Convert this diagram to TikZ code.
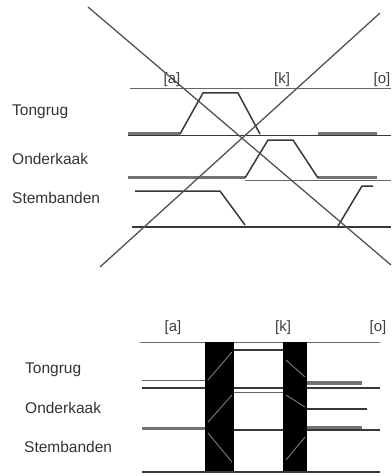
\documentclass[tikz,border=0pt]{standalone}
\usepackage{fontspec}
\setmainfont{Liberation Sans}
\begin{document}
\begin{tikzpicture}[x=1pt,y=-1pt,
  lbl/.style={anchor=base west,inner sep=0pt,font=\fontsize{15.5}{18}\selectfont,text=black!80},
  seg/.style={anchor=base,inner sep=0pt,font=\fontsize{15}{18}\selectfont,text=black!75},
  thinl/.style={draw=black!60,line width=1pt},
  darkl/.style={draw=black!78,line width=1.5pt},
  thickg/.style={draw=black!55,line width=3.8pt},
  diag/.style={draw=black!68,line width=1.3pt},
  bar/.style={fill=black,draw=none},
  ghost/.style={draw=black!55,line width=1pt}]
\useasboundingbox (0,0) rectangle (391,476);
% ---------- upper chart ----------
\node[lbl] (t1) at (12,116) {Tongrug};
\node[lbl] (o1) at (12,164) {Onderkaak};
\node[lbl] (s1) at (12,203) {Stembanden};
\node[seg] (a1) at (172,84) {[a]};
\node[seg] (k1) at (282,84) {[k]};
\node[seg] (oo1) at (382,84) {[o]};
% top reference line
\draw[thinl] (130,89) -- (391,89);
% tongrug
\draw[thickg] (128,134) -- (180,134);
\draw[thickg] (318,134) -- (377,134);
\draw[darkl] (128,135.5) -- (391,135.5);
\draw[darkl] (180,134) -- (203,93) -- (238,93) -- (260,134);
% onderkaak
\draw[thickg] (128,177.5) -- (245,177.5);
\draw[thickg] (318,177.5) -- (377,177.5);
\draw[thinl] (245,180) -- (391,180);
\draw[darkl] (245,178) -- (268,140) -- (293,140) -- (318,178);
% stembanden
\draw[darkl] (135,191) -- (220,191) -- (245,225);
\draw[darkl] (132,227) -- (391,227);
\draw[darkl] (338,226) -- (362,186) -- (373,186);
% crossing diagonals
\coordinate (d1s) at (88,7);
\coordinate (d1e) at (391,265);
\coordinate (d2s) at (380,13);
\coordinate (d2e) at (100,267);
\draw[diag] (d1s) -- (d1e);
\draw[diag] (d2s) -- (d2e);
% ---------- lower chart ----------
\node[lbl] (t2) at (25,373) {Tongrug};
\node[lbl] (o2) at (25,413) {Onderkaak};
\node[lbl] (s2) at (24,452) {Stembanden};
\node[seg] (a2) at (173,331) {[a]};
\node[seg] (k2) at (283,331) {[k]};
\node[seg] (oo2) at (378,331) {[o]};
\draw[thinl] (140,342) -- (380,342);
\draw[darkl] (142,472) -- (380,472);
% left part
\draw[thinl] (142,380) -- (205,380);
\draw[darkl] (142,388) -- (205,388);
\draw[thickg] (142,428.5) -- (205,428.5);
% middle part
\draw[darkl] (234,350) -- (283,350);
\draw[darkl] (234,388) -- (283,388);
\draw[thinl] (234,392) -- (283,392);
\draw[darkl] (234,430) -- (283,430);
% right part
\draw[thickg] (307,383) -- (362,383);
\draw[darkl] (307,388) -- (380,388);
\draw[darkl] (307,409) -- (367,409);
\draw[thickg] (307,428) -- (362,428);
\draw[darkl] (307,430) -- (380,430);
% black bars
\fill[bar] (205,342) rectangle (234,471);
\fill[bar] (283,342) rectangle (307,471);
% faint transitions inside the bars
\draw[ghost] (208,380) -- (232,352);
\draw[ghost] (208,422) -- (232,395);
\draw[ghost] (208,433) -- (232,462);
\draw[ghost] (286,360) -- (305,377);
\draw[ghost] (286,395) -- (305,407);
\draw[ghost] (286,460) -- (305,437);
\end{tikzpicture}
\end{document}
